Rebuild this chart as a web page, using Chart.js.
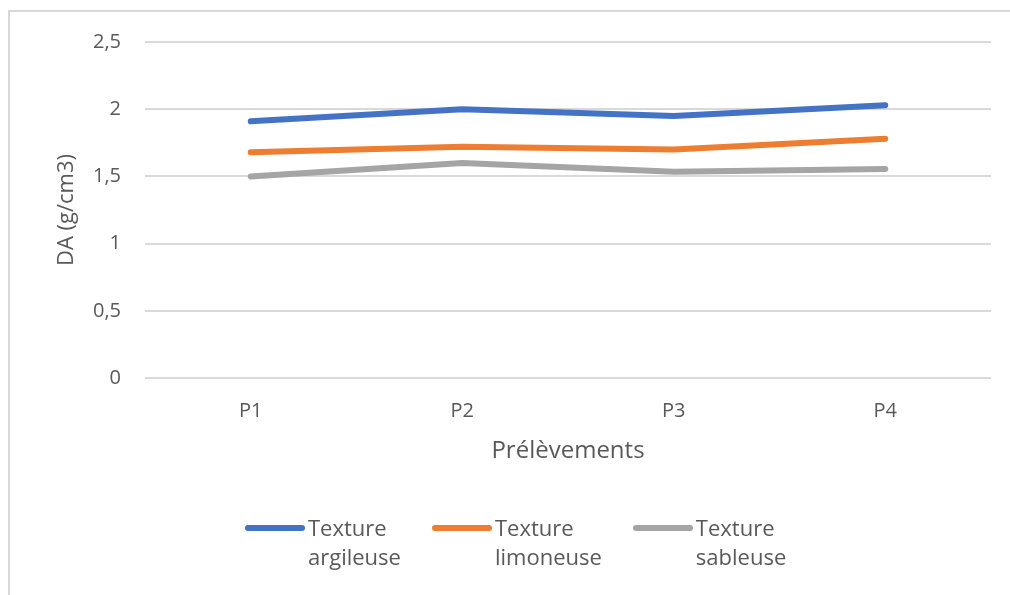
<!DOCTYPE html>
<html lang="fr">
<head>
  <meta charset="UTF-8" />
  <title>DA par prélèvement</title>
  <script src="https://cdn.jsdelivr.net/npm/chart.js"></script>
  <style>
    html, body { margin: 0; padding: 0; background: #fff; }
    .cadre {
      position: relative; width: 1010px; height: 595px; overflow: hidden;
      font-family: "Open Sans", "Liberation Sans", sans-serif; color: #595959;
    }
    .bord {
      position: absolute; left: 8px; top: 10px; right: -5px; bottom: -5px;
      border-top: 2px solid #d9d9d9; border-left: 2px solid #d9d9d9;
    }
    canvas { position: absolute; left: 0; top: 0; }
    #legende {
      position: absolute; left: 245px; top: 513px;
      display: flex; align-items: flex-start;
      font-size: 22px; line-height: 29px;
    }
    .item { display: flex; align-items: flex-start; margin-right: 31px; }
    .trait { width: 60px; height: 6px; border-radius: 3px; margin-top: 12px; margin-right: 3px; }
  </style>
</head>
<body>
  <div class="cadre">
    <div class="bord"></div>
    <canvas id="graphique" width="1010" height="595"></canvas>
    <div id="legende"></div>
  </div>

  <script>
    const prelevements = ["P1", "P2", "P3", "P4"];
    const argileuse = [1.91, 2.0, 1.95, 2.03];
    const limoneuse = [1.68, 1.72, 1.70, 1.78];
    const sableuse = [1.50, 1.60, 1.535, 1.555];
    const nomsSeries = [["Texture", "argileuse"], ["Texture", "limoneuse"], ["Texture", "sableuse"]];
    const couleurs = ["#4472C4", "#ED7D31", "#A5A5A5"];

    const gris = "#595959";
    const police = "'Open Sans', 'Liberation Sans', sans-serif";

    const series = [argileuse, limoneuse, sableuse].map((valeurs, i) => ({
      label: nomsSeries[i].join(" "),
      data: valeurs,
      borderColor: couleurs[i],
      backgroundColor: couleurs[i],
      borderWidth: 6,
      borderCapStyle: "round",
      borderJoinStyle: "round",
      pointRadius: 0,
      tension: 0
    }));

    const chart = new Chart(document.getElementById("graphique"), {
      type: "line",
      data: { labels: prelevements, datasets: series },
      options: {
        responsive: false,
        animation: false,
        layout: { padding: { top: 42, right: 19, bottom: 117, left: 0 } },
        plugins: { legend: { display: false }, tooltip: { enabled: false } },
        scales: {
          x: {
            offset: true,
            grid: { display: false, drawTicks: false },
            border: { display: false },
            ticks: { color: gris, font: { family: police, size: 20 }, padding: 21 },
            title: { display: true, text: "Prélèvements", color: gris, font: { family: police, size: 24 }, padding: { top: 4, bottom: 12 } },
            afterFit: s => { s.height = 100; }
          },
          y: {
            min: 0, max: 2.5,
            grid: { color: "#d9d9d9", lineWidth: 2, drawTicks: false },
            border: { display: false },
            ticks: {
              stepSize: 0.5, color: gris, font: { family: police, size: 20 }, padding: 24,
              callback: v => String(v).replace(".", ",")
            },
            title: { display: true, text: "DA (g/cm3)", color: gris, font: { family: police, size: 22 }, padding: { top: 54, bottom: 0 } },
            afterFit: s => { s.width = 145; }
          }
        }
      }
    });

    // légende sur deux lignes comme dans l'original
    const legende = document.getElementById("legende");
    chart.data.datasets.forEach((ds, i) => {
      const item = document.createElement("div");
      item.className = "item";
      const trait = document.createElement("div");
      trait.className = "trait";
      trait.style.background = ds.borderColor;
      const texte = document.createElement("div");
      texte.innerHTML = nomsSeries[i].join("<br>");
      item.appendChild(trait);
      item.appendChild(texte);
      legende.appendChild(item);
    });
  </script>
</body>
</html>
